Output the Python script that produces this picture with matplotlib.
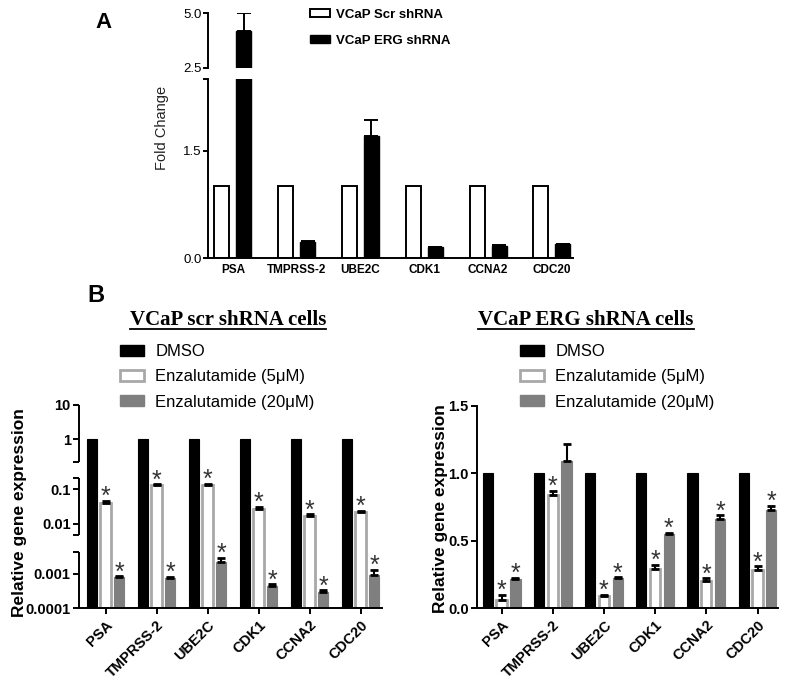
import numpy as np
import matplotlib
matplotlib.use('Agg')
import matplotlib.pyplot as plt
from matplotlib.patches import Patch
from matplotlib.lines import Line2D

plt.rcParams['font.family'] = ['Liberation Sans', 'DejaVu Sans']

""" ======================= data ======================= """

genes = ['PSA', 'TMPRSS-2', 'UBE2C', 'CDK1', 'CCNA2', 'CDC20']

# panel A : fold change
scr_fold = [1.0, 1.0, 1.0, 1.0, 1.0, 1.0]
erg_fold = [4.2, 0.22, 1.70, 0.15, 0.17, 0.19]
erg_fold_err = [0.8, 0.012, 0.23, 0.006, 0.006, 0.006]

# panel B left : VCaP scr shRNA (log)
scr_dmso = [1.0, 1.0, 1.0, 1.0, 1.0, 1.0]
scr_enz5 = [0.041, 0.13, 0.135, 0.0276, 0.0172, 0.0226]
scr_enz5_err = [0.005, 0.01, 0.01, 0.003, 0.0015, 0.0015]
scr_enz20 = [0.00078, 0.00076, 0.0022, 0.00045, 0.00029, 0.00094]
scr_enz20_err = [0.00006, 0.00006, 0.0007, 0.00004, 0.00004, 0.00035]
scr_star5 = [True, True, True, True, True, True]
scr_star20 = [True, True, True, True, True, True]

# panel B right : VCaP ERG shRNA (linear)
erg_dmso = [1.0, 1.0, 1.0, 1.0, 1.0, 1.0]
erg_enz5 = [0.06, 0.84, 0.09, 0.29, 0.20, 0.28]
erg_enz5_err = [0.04, 0.03, 0.01, 0.03, 0.02, 0.03]
erg_enz20 = [0.215, 1.09, 0.22, 0.55, 0.66, 0.73]
erg_enz20_err = [0.01, 0.13, 0.01, 0.01, 0.03, 0.03]
erg_star5 = [True, True, True, True, True, True]
erg_star20 = [True, False, True, True, True, True]

GRAY = '#7f7f7f'
LGRAY = '#a8a8a8'

W, H = 787, 684
fig = plt.figure(figsize=(W / 100, H / 100), dpi=100)


def px_axes(left, top, right, bottom):
    return fig.add_axes([left / W, 1 - bottom / H, (right - left) / W, (bottom - top) / H])


""" ======================= panel A ======================= """

axA_top = px_axes(208, 13, 573, 68)
axA_bot = px_axes(208, 79, 573, 258)
xA = np.arange(len(genes))
wA = 0.235
offA = 0.172

for ax in (axA_top, axA_bot):
    ax.bar(xA - offA, scr_fold, wA, color='white', edgecolor='black', linewidth=1.4)
    ax.bar(xA + offA, erg_fold, wA, color='black', edgecolor='black', linewidth=1.0)
    ax.errorbar(xA + offA, erg_fold, yerr=[np.zeros(len(genes)), erg_fold_err], fmt='none',
                ecolor='black', elinewidth=1.4, capsize=5, capthick=1.4)
    ax.set_xlim(-0.39, 5.33)
    ax.spines['top'].set_visible(False)
    ax.spines['right'].set_visible(False)
    ax.spines['left'].set_linewidth(1.4)
    ax.spines['bottom'].set_linewidth(1.4)
    ax.tick_params(axis='y', width=1.4, length=3.5, labelsize=9.5, pad=1)

axA_top.set_ylim(2.5, 5.0)
axA_top.spines['bottom'].set_visible(False)
axA_top.set_xticks([])
axA_top.set_yticks([2.5, 5.0])
axA_top.set_yticklabels(['2.5', '5.0'])

axA_bot.set_ylim(0, 2.5)
axA_bot.set_yticks([0.0, 1.5, 2.5])
axA_bot.set_yticklabels(['0.0', '1.5', ''])
axA_bot.set_xticks(xA)
axA_bot.set_xticklabels(genes, fontsize=8.5, fontweight='bold')
axA_bot.tick_params(axis='x', length=0, pad=4)

fig.text(162 / W, 1 - 128 / H, 'Fold Change', rotation=90, ha='center', va='center', fontsize=10.5,
         color='#222222')
fig.text(104 / W, 1 - 23 / H, 'A', ha='center', va='center', fontsize=16, fontweight='bold')

legA = axA_top.legend(handles=[Patch(facecolor='white', edgecolor='black', linewidth=1.4, label='VCaP Scr shRNA'),
                               Patch(facecolor='black', edgecolor='black', label='VCaP ERG shRNA')],
                      loc='upper left', bbox_to_anchor=(310 / W, 1 - 9 / H), bbox_transform=fig.transFigure,
                      frameon=False, borderpad=0, borderaxespad=0, handlelength=1.5, handleheight=0.55,
                      handletextpad=0.45, labelspacing=1.05, prop={'size': 9.5, 'weight': 'bold'})

""" ======================= panel B : broken log scale ======================= """

t_knots = [-10.0, -4.0, -2.355, -2.345, -0.675, -0.665, 1.0, 10.0]
gap = 0.46
u_knots = [-10.0 - 2 * gap, -4.0 - 2 * gap, -2.355 - 2 * gap, -2.345 - gap,
           -0.675 - gap, -0.665, 1.0, 10.0]


def fwd(y):
    t = np.log10(np.clip(np.asarray(y, dtype=float), 1e-12, None))
    return np.interp(t, t_knots, u_knots)


def inv(u):
    return 10 ** np.interp(np.asarray(u, dtype=float), u_knots, t_knots)


axL = px_axes(79, 405, 382, 608)
axR = px_axes(477, 406, 778, 608)

xB = np.arange(len(genes))
wB = 0.20
offB = 0.27


def draw_panel(ax, dmso, e5, e5err, e20, e20err, s5, s20, base):
    ax.bar(xB - offB, np.array(dmso) - base, wB, bottom=base, color='black', edgecolor='black', linewidth=0.8)
    ax.bar(xB, np.array(e5) - base, wB, bottom=base, color='white', edgecolor=LGRAY, linewidth=2.0)
    ax.bar(xB + offB, np.array(e20) - base, wB, bottom=base, color=GRAY, edgecolor=GRAY, linewidth=0.8)
    ax.errorbar(xB, e5, yerr=[np.zeros(len(genes)), e5err], fmt='none', ecolor='black',
                elinewidth=1.5, capsize=3, capthick=2.0, zorder=3)
    ax.errorbar(xB + offB, e20, yerr=[np.zeros(len(genes)), e20err], fmt='none', ecolor='black',
                elinewidth=1.5, capsize=3, capthick=2.0, zorder=3)
    for i in range(len(genes)):
        if s5[i]:
            ax.annotate('*', (xB[i], e5[i] + e5err[i]), xytext=(0, -6), textcoords='offset points',
                        ha='center', va='bottom', fontsize=18, color='#333333')
        if s20[i]:
            ax.annotate('*', (xB[i] + offB, e20[i] + e20err[i]), xytext=(0, -6), textcoords='offset points',
                        ha='center', va='bottom', fontsize=18, color='#333333')
    ax.spines['top'].set_visible(False)
    ax.spines['right'].set_visible(False)
    ax.spines['left'].set_linewidth(1.4)
    ax.spines['bottom'].set_linewidth(1.4)
    ax.set_xticks(xB)
    ax.set_xticklabels(genes, rotation=45, ha='right', rotation_mode='anchor',
                       fontsize=10.5, fontweight='bold')
    ax.tick_params(axis='x', width=1.4, length=4, pad=3)
    ax.tick_params(axis='y', which='both', width=1.4, length=4, labelsize=10.5, pad=2)
    for lab in ax.get_yticklabels():
        lab.set_fontweight('bold')
    ax.set_ylabel('Relative gene expression', fontsize=12.5, fontweight='bold')


axL.set_yscale('function', functions=(fwd, inv))
axL.set_ylim(1e-4, 10)
axL.set_xlim(-0.52, 5.42)
axL.set_yticks([10, 1, 0.1, 0.01, 0.001, 0.0001])
axL.set_yticklabels(['10', '1', '0.1', '0.01', '0.001', '0.0001'])
axL.set_yticks([10 ** -0.665, 10 ** -0.675, 10 ** -2.345, 10 ** -2.355], minor=True)
axL.set_yticklabels(['', '', '', ''], minor=True)
draw_panel(axL, scr_dmso, scr_enz5, scr_enz5_err, scr_enz20, scr_enz20_err, scr_star5, scr_star20, 1e-4)
axL.spines['left'].set_visible(False)
tr = axL.get_yaxis_transform()
for lo, hi in [(1e-4, 10 ** -2.355), (10 ** -2.345, 10 ** -0.675), (10 ** -0.665, 10)]:
    axL.plot([0, 0], [lo, hi], color='black', lw=1.4, transform=tr, clip_on=False, solid_capstyle='butt')
axL.yaxis.set_label_coords(-0.17, 0.47)

axR.set_ylim(0, 1.5)
axR.set_xlim(-0.48, 5.40)
axR.set_yticks([0.0, 0.5, 1.0, 1.5])
axR.set_yticklabels(['0.0', '0.5', '1.0', '1.5'])
draw_panel(axR, erg_dmso, erg_enz5, erg_enz5_err, erg_enz20, erg_enz20_err, erg_star5, erg_star20, 0.0)
axR.yaxis.set_label_coords(-0.096, 0.49)

fig.text(96 / W, 1 - 296 / H, 'B', ha='center', va='center', fontsize=17, fontweight='bold')

titles = []
titles.append(fig.text(228 / W, 1 - 325 / H, 'VCaP scr shRNA cells', ha='center', va='baseline',
                       fontsize=15, fontweight='bold', family='Liberation Serif'))
titles.append(fig.text(586 / W, 1 - 325 / H, 'VCaP ERG shRNA cells', ha='center', va='baseline',
                       fontsize=15, fontweight='bold', family='Liberation Serif'))

legB_handles = [Patch(facecolor='black', edgecolor='black', label='DMSO'),
                Patch(facecolor='white', edgecolor=LGRAY, linewidth=2.0, label='Enzalutamide (5\u03bcM)'),
                Patch(facecolor=GRAY, edgecolor=GRAY, label='Enzalutamide (20\u03bcM)')]
for ax, xl in [(axL, 120), (axR, 520)]:
    ax.legend(handles=legB_handles, loc='upper left', bbox_to_anchor=(xl / W, 1 - 344 / H),
              bbox_transform=fig.transFigure, frameon=False, borderpad=0, borderaxespad=0,
              handlelength=1.45, handleheight=0.66, handletextpad=0.66, labelspacing=0.62,
              fontsize=12)

# underline the panel B titles
fig.canvas.draw()
inv_fig = fig.transFigure.inverted()
for t in titles:
    bb = t.get_window_extent().transformed(inv_fig)
    yl = t.get_position()[1] - 4.5 / H
    fig.add_artist(Line2D([bb.x0, bb.x1], [yl, yl], color='black', lw=1.3, transform=fig.transFigure))

plt.savefig('out.png', dpi=100)
